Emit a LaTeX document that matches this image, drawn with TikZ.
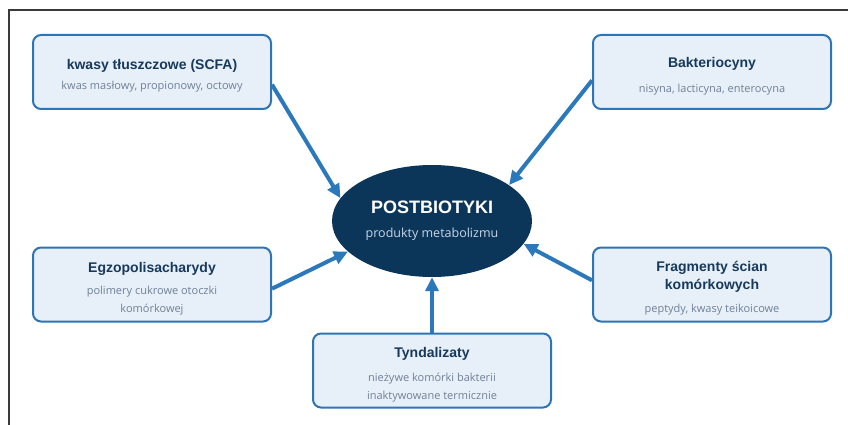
\documentclass[tikz,border=0pt]{standalone}
\usepackage{fontspec}
\setmainfont{Open Sans}
\newfontfamily\headfont{Liberation Sans}
\usetikzlibrary{arrows.meta, shapes.geometric}
\definecolor{boxfill}{HTML}{E7EFF8}
\definecolor{boxline}{HTML}{2E75B6}
\definecolor{arrowblue}{HTML}{2B78BA}
\definecolor{navy}{HTML}{0B365A}
\definecolor{titletext}{HTML}{173A5C}
\definecolor{subtext}{HTML}{6F8198}
\definecolor{lighttext}{HTML}{C8D5E4}
\definecolor{framegray}{HTML}{3A3A3A}
\newcommand{\boxtitle}[1]{\raisebox{-4pt}[\height][\depth]{\headfont\bfseries\fontsize{14}{18}\selectfont\color{titletext}#1}}
\newcommand{\boxsub}[1]{\raisebox{-4pt}[\height][\depth]{\fontsize{11}{18}\selectfont\color{subtext}#1}}
\begin{document}
\begin{tikzpicture}[x = 1pt, y = -1pt,
        box/.style = {rectangle, rounded corners = 8pt, draw = boxline, line width = 2pt,
            fill = boxfill, minimum width = 238pt, minimum height = 74pt, inner sep = 0pt,
            align = center, font = \fontsize{11}{18}\selectfont},
        centre/.style = {ellipse, fill = navy, minimum width = 200pt, minimum height = 112pt,
            inner sep = 0pt, align = center, font = \fontsize{12.5}{18}\selectfont},
        feed/.style = {draw = arrowblue, line width = 4pt, -{Triangle[length = 14pt, width = 13pt]}}]
    \useasboundingbox (0,0) rectangle (848,425);
    \draw[style = {line width = 1.5pt}, framegray] (9,425) -- (9,10) -- (848,10);
    \begin{scope}
        \node[centre] (post) at (432,221) {{\headfont\bfseries\fontsize{18}{18}\selectfont\color{white}POSTBIOTYKI}\\[6pt]{\color{lighttext}produkty metabolizmu}};
        \node[box] (kwasy) at (152,72) {\boxtitle{kwasy tłuszczowe (SCFA)}\\[2pt]\boxsub{kwas masłowy, propionowy, octowy}};
        \node[box] (bakt) at (712,72) {\boxtitle{Bakteriocyny}\\[7pt]\boxsub{nisyna, lacticyna, enterocyna}};
        \node[box] (egzo) at (152,284.5) {\boxtitle{Egzopolisacharydy}\\[4pt]\boxsub{polimery cukrowe otoczki}\\\boxsub{komórkowej}};
        \node[box] (frag) at (712,284.5) {\boxtitle{Fragmenty ścian}\\\boxtitle{komórkowych}\\[5pt]\boxsub{peptydy, kwasy teikoicowe}};
        \node[box] (tynd) at (432,370.5) {\boxtitle{Tyndalizaty}\\[6pt]\boxsub{nieżywe komórki bakterii}\\\boxsub{inaktywowane termicznie}};
    \end{scope}
    \begin{scope}
        \draw[feed] (kwasy.-6) -- (post.166);
        \draw[feed] (bakt.184) -- (post.25);
        \draw[feed] (egzo.-2) -- (post.200);
        \draw[feed] (frag.178) -- (post.-14);
        \draw[feed] (tynd.north) -- (post.south);
    \end{scope}
\end{tikzpicture}
\end{document}
